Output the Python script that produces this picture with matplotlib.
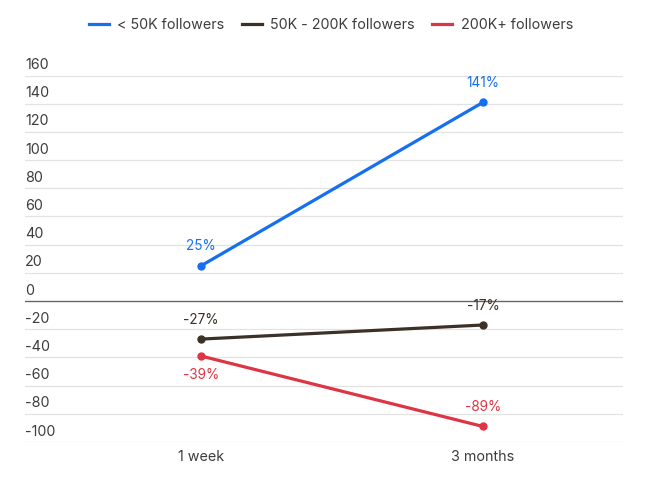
import matplotlib
matplotlib.use("Agg")
import matplotlib.pyplot as plt
from matplotlib.lines import Line2D

categories = ["1 week", "3 months"]
series_names = ["< 50K followers", "50K - 200K followers", "200K+ followers"]
small = [25, 141]
mid = [-27, -17]
large = [-39, -89]
yticks = [-100, -80, -60, -40, -20, 0, 20, 40, 60, 80, 100, 120, 140, 160]

colors = ["#1570ef", "#3b3126", "#dc3545"]
values = [small, mid, large]
# label offset direction per point (+ above, - below)
offsets = [[1, 1], [1, 1], [-1, 1]]

plt.rcParams['font.family'] = ['Inter', 'DejaVu Sans']
text_color = "#3c3c3c"

fig = plt.figure(figsize=(6.62, 4.84), dpi=100)
ax = fig.add_axes([25/662, 42/484, (623-25)/662, (408.5-42)/484])
ax.set_xlim(-0.624, 1.496)
ax.set_ylim(-100, 160)
for s in ax.spines.values():
    s.set_visible(False)
ax.set_xticks([])
ax.set_yticks([])

for t in yticks:
    if t == 0:
        ax.axhline(t, color="#666666", lw=1.0, zorder=1)
    else:
        ax.axhline(t, color="#e3e3e3", lw=0.9, zorder=1)
    ax.annotate(str(t), xy=(0, t), xycoords=ax.get_yaxis_transform(),
                xytext=(0, 2.5), textcoords="offset points",
                ha="left", va="bottom", fontsize=10.3, color=text_color)

x = list(range(len(categories)))
for vals, c, offs in zip(values, colors, offsets):
    ax.plot(x, vals, color=c, lw=2.3, marker="o", ms=5, zorder=3,
            solid_capstyle="round")
    for xi, v, o in zip(x, vals, offs):
        ax.annotate(f"{v}%", xy=(xi, v), xytext=(0, 14*o), textcoords="offset points",
                    ha="center", va="center", fontsize=9.8, color=c, zorder=4)

for xi, cat in zip(x, categories):
    ax.annotate(cat, xy=(xi, 0), xycoords=ax.get_xaxis_transform(),
                xytext=(0, -11), textcoords="offset points",
                ha="center", va="center", fontsize=10.3, color=text_color,
                annotation_clip=False)

handles = [Line2D([0], [0], color=c, lw=2.3) for c in colors]
fig.legend(handles, series_names, loc="center", bbox_to_anchor=(0.5, 1 - 25/484),
           ncol=3, frameon=False, fontsize=10.3, handlelength=1.4,
           handletextpad=0.6, columnspacing=1.2, labelcolor=text_color)

fig.savefig("out.png", dpi=100)
